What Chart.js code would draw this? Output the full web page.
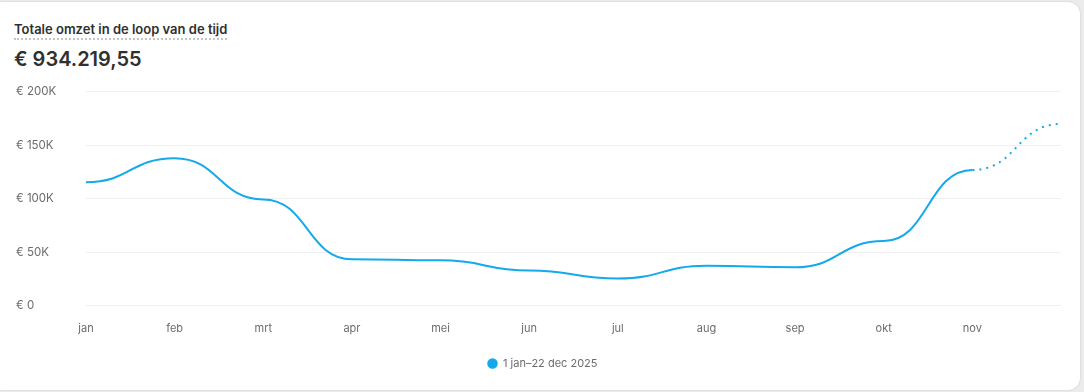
<!DOCTYPE html>
<html>
<head>
  <script src="https://cdn.jsdelivr.net/npm/chart.js"></script>
  <title>Totale omzet</title>
  <style>
    body { margin: 0; background: #ececec; font-family: Inter, "Noto Sans", sans-serif; }
    .card { position: absolute; left: -10px; top: 2px; width: 1090px; height: 388px; background: #fff;
            border-radius: 12px; box-shadow: 0 0 2px rgba(0,0,0,0.18); }
    .title { position: absolute; left: 14px; top: 21px; font-size: 13px; font-weight: 600; color: #303030;
             border-bottom: 2px dotted #c4c4c4; padding-bottom: 1px; }
    .total { position: absolute; left: 14px; top: 47px; font-size: 20px; font-weight: 600; color: #303030; }
    .wrap { position: absolute; left: 16px; top: 77px; width: 1053px; height: 302px; }
  </style>
</head>
<body>
  <div class="card"></div>
  <div class="title">Totale omzet in de loop van de tijd</div>
  <div class="total">€ 934.219,55</div>
  <div class="wrap"><canvas id="salesChart"></canvas></div>

  <script>
    // maanden en omzet (in euro)
    const months = ['jan', 'feb', 'mrt', 'apr', 'mei', 'jun', 'jul', 'aug', 'sep', 'okt', 'nov', 'dec'];
    const revenue = [115500, 138000, 99500, 43500, 42500, 33000, 25500, 37500, 36000, 60500, 127000, 170000];
    const yTicks = [0, 50000, 100000, 150000, 200000];
    const seriesLabel = '1 jan–22 dec 2025';
    const blue = '#13a9ec';

    // vlakke raaklijnen in elk punt (zoals een "bump" curve)
    const bumpCurve = {
      id: 'bumpCurve',
      beforeDatasetDraw(chart, args) {
        const meta = args.meta;
        const line = meta.dataset;
        line.updateControlPoints(chart.chartArea, meta.indexAxis);
        const pts = meta.data;
        pts.forEach((p, i) => {
          const prev = pts[i - 1], next = pts[i + 1];
          p.cp1x = prev ? p.x - (p.x - prev.x) / 2 : p.x;
          p.cp1y = p.y;
          p.cp2x = next ? p.x + (next.x - p.x) / 2 : p.x;
          p.cp2y = p.y;
        });
        delete line._path;
      }
    };

    const ctx = document.getElementById('salesChart').getContext('2d');
    const chart = new Chart(ctx, {
      type: 'line',
      data: {
        labels: months,
        datasets: [{
          label: seriesLabel,
          data: revenue,
          borderColor: blue,
          backgroundColor: blue,
          borderWidth: 2,
          pointRadius: 0,
          tension: 0.4,
          // laatste stuk (prognose) gestippeld
          segment: {
            borderDash: c => c.p1DataIndex === months.length - 1 ? [2, 5] : undefined
          }
        }]
      },
      plugins: [bumpCurve],
      options: {
        responsive: true,
        maintainAspectRatio: false,
        animation: false,
        layout: { padding: { top: 4, right: 0, bottom: 0, left: 0 } },
        plugins: {
          legend: {
            position: 'bottom',
            labels: {
              usePointStyle: true,
              pointStyle: 'circle',
              boxWidth: 10,
              boxHeight: 6,
              padding: 15,
              color: '#6b6b6b',
              font: { family: 'Inter', size: 11 }
            }
          },
          tooltip: { enabled: false }
        },
        scales: {
          x: {
            grid: { display: false },
            border: { display: false },
            ticks: {
              color: '#6b6b6b',
              font: { family: 'Inter', size: 11 },
              maxRotation: 0,
              autoSkip: false,
              padding: 8,
              callback: (v, i) => i === months.length - 1 ? '' : months[i]
            }
          },
          y: {
            min: 0,
            max: 200000,
            afterBuildTicks: s => { s.ticks = yTicks.map(v => ({ value: v })); },
            afterFit: s => { s.width = 70; },
            grid: { color: '#efefef', drawTicks: false },
            border: { display: false },
            ticks: {
              color: '#6b6b6b',
              font: { family: 'Inter', size: 11.5 },
              crossAlign: 'far',
              padding: 8,
              callback: v => v === 0 ? '€ 0' : '€ ' + (v / 1000) + 'K'
            }
          }
        }
      }
    });
  </script>
</body>
</html>
